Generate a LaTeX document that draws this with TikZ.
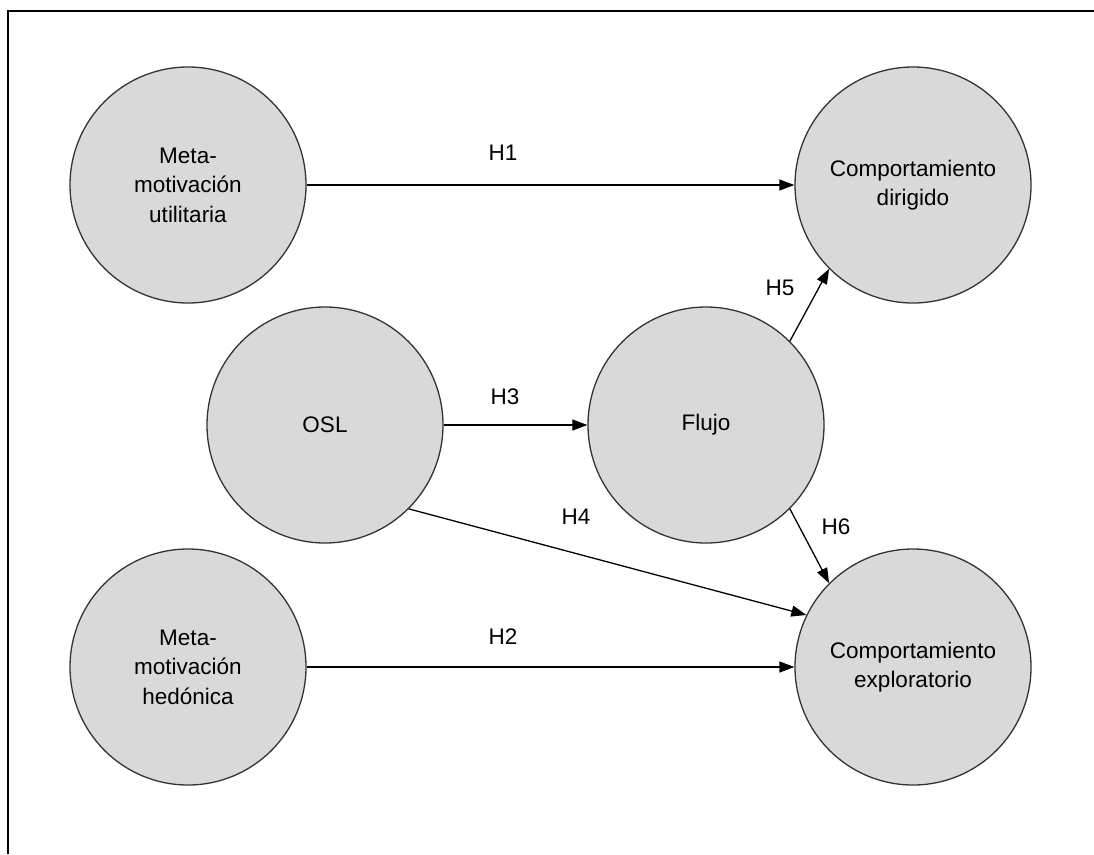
\documentclass[tikz,border=0pt]{standalone}
\usepackage{fontspec}
\setmainfont{Liberation Sans}
\usetikzlibrary{arrows.meta, positioning}

\begin{document}
\begin{tikzpicture}[x=1pt, y=-1pt,
    construct/.style={circle, draw=black!80, line width=1.3pt, fill=gray!30, align=center, minimum size=236pt, inner sep=0pt, font=\fontsize{22.5}{29.5}\selectfont},
    hyp/.style={font=\fontsize{22.5}{27}\selectfont},
    link/.style={-{Triangle[length=15pt,width=11pt]}, line width=1.3pt}
]
\useasboundingbox (0,0) rectangle (1094,854);
\draw[line width=2.4pt] (8,854) -- (8,11) -- (1094,11);

\node[construct] (util) at (188,185) {Meta-\\motivación\\utilitaria};
\node[construct] (hedon) at (188,667) {Meta-\\motivación\\hedónica};
\node[construct] (osl) at (325,425) {OSL};
\node[construct] (flujo) at (706,425) {Flujo};
\node[construct] (dirig) at (913,185) {Comportamiento\\dirigido};
\node[construct] (explor) at (913,667) {Comportamiento\\exploratorio};

\draw[link] (util) -- (dirig);
\draw[link] (hedon) -- (explor);
\draw[link] (osl) -- (flujo);
\draw[link] (osl.-45) -- (explor.154);
\draw[link] (flujo.45) -- (dirig.225);
\draw[link] (flujo.-45) -- (explor.135);

\node[hyp] (h1) at (503,153) {H1};
\node[hyp] (h2) at (503,637) {H2};
\node[hyp] (h3) at (505,397) {H3};
\node[hyp] (h4) at (576,517) {H4};
\node[hyp] (h5) at (780,288) {H5};
\node[hyp] (h6) at (836,527) {H6};
\end{tikzpicture}
\end{document}
